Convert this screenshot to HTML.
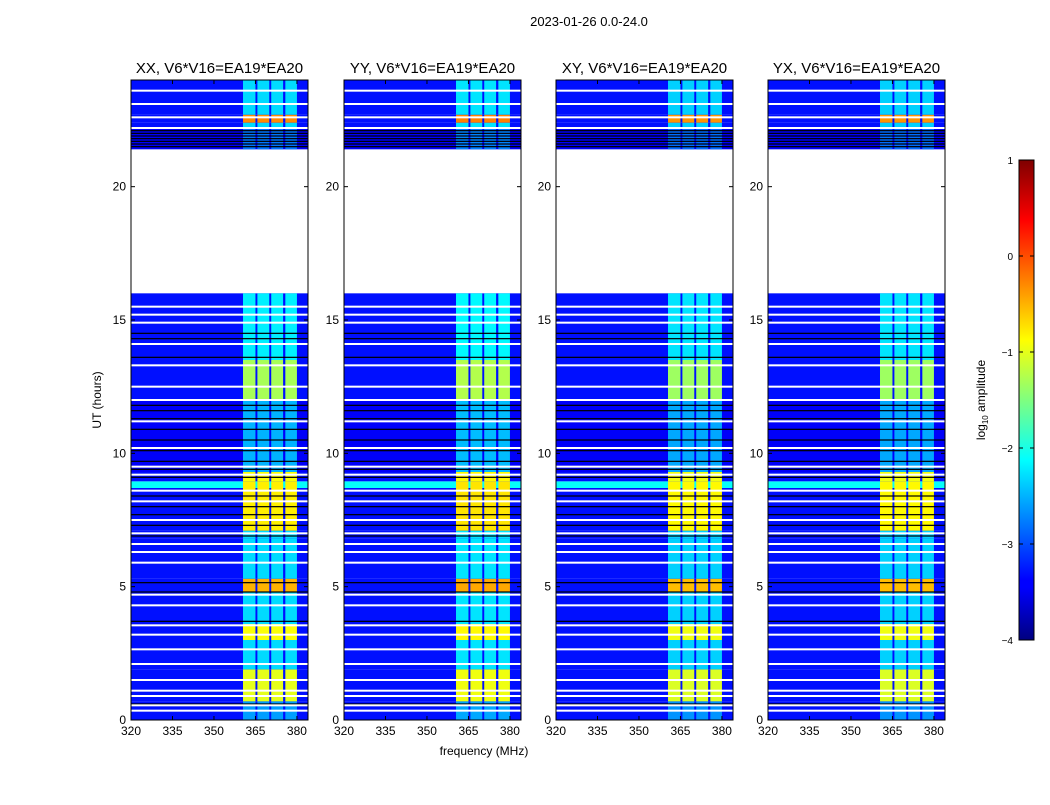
<!DOCTYPE html>
<html><head><meta charset="utf-8"><style>
body{margin:0;background:#fff;font-family:"Liberation Sans",sans-serif;}
svg text{font-family:"Liberation Sans",sans-serif;}
</style></head><body>
<svg id="fig" width="1050" height="800" xmlns="http://www.w3.org/2000/svg">
<text x="589" y="26" font-size="13" text-anchor="middle">2023-01-26 0.0-24.0</text>
<text x="484" y="755" font-size="12" text-anchor="middle">frequency (MHz)</text>
<text x="101" y="400" font-size="12" text-anchor="middle" transform="rotate(-90 101 400)">UT (hours)</text>
<defs><linearGradient id="jet" x1="0" y1="1" x2="0" y2="0">
<stop offset="0" stop-color="#00007f"/><stop offset="0.11" stop-color="#0000ff"/><stop offset="0.125" stop-color="#0000ff"/><stop offset="0.375" stop-color="#00ffff"/><stop offset="0.625" stop-color="#ffff00"/><stop offset="0.875" stop-color="#ff0000"/><stop offset="1" stop-color="#7f0000"/></linearGradient></defs>
<g>
<rect x="1019" y="160" width="15" height="480" fill="url(#jet)" stroke="#000" stroke-width="1"/>
</g>
<text x="985" y="400" font-size="12" text-anchor="middle" transform="rotate(-90 985 400)">log<tspan font-size="8" dy="3">10</tspan><tspan dy="-3"> amplitude</tspan></text>
</svg>
<script>
const panelTitles=["XX, V6*V16=EA19*EA20","YY, V6*V16=EA19*EA20","XY, V6*V16=EA19*EA20","YX, V6*V16=EA19*EA20"];
const panelBandScale=[0,0.05,-0.05,-0.05];
// segments: start hour, end hour, background log amp, band log amp
const segStart=[0,0.7,1.9,3.0,3.6,4.8,5.3,6.8,7.1,8.7,8.95,9.3,12.0,13.5,16.0,21.4,22.2,22.4,22.7];
const segEnd=[0.7,1.9,3.0,3.6,4.8,5.3,6.8,7.1,8.7,8.95,9.3,12.0,13.5,16.0,21.4,22.2,22.4,22.7,24.0];
const segBg=[-3.3,-3.3,-3.3,-3.3,-3.3,-3.3,-3.3,-3.3,-3.3,-2.1,-3.3,-3.4,-3.3,-3.3,null,-3.4,-3.3,-3.3,-3.3];
const segBand=[-2.6,-1.0,-2.3,-0.9,-2.3,-0.5,-2.3,-2.3,-0.8,-0.8,-0.9,-2.5,-1.3,-2.2,null,-2.8,-2.3,-0.3,-2.3];
const whiteLines=[0.35,0.55,0.9,1.1,1.5,2.1,2.65,3.2,3.55,4.3,4.7,5.9,6.3,6.6,7.0,7.5,8.2,8.6,9.2,9.5,10.2,11.2,12.0,12.5,13.3,14.1,14.9,15.2,15.5,22.2,22.6,23.1,23.6];
const blackLines=[0.6,3.7,4.8,5.15,6.9,7.3,7.7,8.0,8.4,9.1,9.4,9.7,10.1,10.5,10.9,11.3,11.6,11.8,13.6,14.3,14.5,21.5,21.6,21.7,21.8,21.9,22.0,22.1];
const bandStart=[360.5,365.7,370.7,375.8];
const bandEnd=[365.0,370.0,375.0,380.0];
const xTicks=[320,335,350,365,380];
const yTicks=[0,5,10,15,20];
const cbTicks=[1,0,-1,-2,-3,-4];
const cbTickLabels=["1","0","\u22121","\u22122","\u22123","\u22124"];

const NS="http://www.w3.org/2000/svg";
const svg=document.getElementById('fig');
const panelX=[131,344,556,768], PW=177, PT=80, PH=640;
function xScale(p,f){return panelX[p]+(f-320)*PW/64;}
function yScale(h){return PT+PH-h*PH/24;}
function cbScale(v){return 160+(1-v)*480/5;}
function jet(v){const t=Math.max(0,Math.min(1,(v+4)/5));const c=x=>Math.round(255*Math.max(0,Math.min(1,1.5-Math.abs(4*t-x))));return `rgb(${c(3)},${c(2)},${c(1)})`;}
function mk(tag,attrs,parent){const e=document.createElementNS(NS,tag);for(const k in attrs)e.setAttribute(k,attrs[k]);(parent||svg).appendChild(e);return e;}

for(let p=0;p<4;p++){
  const g=mk('g',{});
  
  
  for(let i=0;i<segStart.length;i++){
    if(segBg[i]===null)continue;
    const y1=yScale(segEnd[i]),y2=yScale(segStart[i]);
    const r=mk('rect',{x:panelX[p],y:y1,width:PW,height:y2-y1,fill:jet(segBg[i])},g);
    
    
    for(let b=0;b<bandStart.length;b++){
      const x1=xScale(p,bandStart[b]),x2=xScale(p,bandEnd[b]);
      const c=mk('rect',{x:x1,y:y1,width:x2-x1,height:y2-y1,fill:jet(segBand[i]+panelBandScale[p])},g);
      
      
    }
  }
  for(const h of blackLines){
    const l=mk('rect',{x:panelX[p],y:yScale(h)-0.6,width:PW,height:1.2,fill:'#000'},g);
    
    
  }
  for(const h of whiteLines){
    const l=mk('rect',{x:panelX[p],y:yScale(h)-1,width:PW,height:2,fill:'#fff'},g);
    
    
  }
  const fr=mk('rect',{x:panelX[p],y:PT,width:PW,height:PH,fill:'none',stroke:'#000','stroke-width':1},g);
  
  
  const t=mk('text',{x:panelX[p]+PW/2,y:73,'font-size':15,'text-anchor':'middle'},g);
  t.textContent=panelTitles[p];
  
  
  for(const v of xTicks){
    const x=xScale(p,v);
    mk('line',{x1:x,x2:x,y1:PT+PH,y2:PT+PH-4,stroke:'#000'},g);
    mk('line',{x1:x,x2:x,y1:PT,y2:PT+4,stroke:'#000'},g);
    const tx=mk('text',{x:x,y:PT+PH+15,'font-size':12,'text-anchor':'middle'},g);
    tx.textContent=v;
    
    
  }
  for(const v of yTicks){
    const y=yScale(v);
    mk('line',{x1:panelX[p],x2:panelX[p]+4,y1:y,y2:y,stroke:'#000'},g);
    mk('line',{x1:panelX[p]+PW,x2:panelX[p]+PW-4,y1:y,y2:y,stroke:'#000'},g);
    const ty=mk('text',{x:panelX[p]-5,y:y+4,'font-size':12,'text-anchor':'end'},g);
    ty.textContent=v;
    
    
  }
}
for(let i=0;i<cbTicks.length;i++){
  const y=cbScale(cbTicks[i]);
  mk('line',{x1:1019,x2:1023,y1:y,y2:y,stroke:'#000'});
  mk('line',{x1:1034,x2:1030,y1:y,y2:y,stroke:'#000'});
  const t=mk('text',{x:1013,y:y+4,'font-size':10,'text-anchor':'end'});
  t.textContent=cbTickLabels[i];
  
  
}
</script>
</body></html>
